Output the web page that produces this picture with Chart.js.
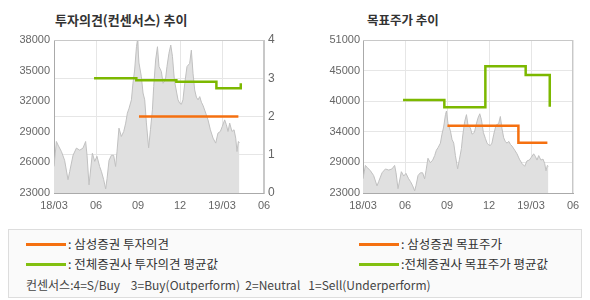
<!DOCTYPE html>
<html><head><meta charset="utf-8">
<script src="https://cdn.jsdelivr.net/npm/chart.js@4.4.1/dist/chart.umd.min.js"></script>
<style>
body{margin:0;background:#fff;width:590px;height:300px;position:relative;overflow:hidden;font-family:"Noto Sans CJK KR","Liberation Sans",sans-serif;}
.title{position:absolute;top:10px;font-weight:bold;font-size:13px;color:#333;white-space:nowrap;}
.cw{position:absolute;top:0;width:295px;height:216px;}
#legend{position:absolute;left:8px;top:229px;width:572px;height:67px;border:1px solid #ddd;background:#fafafa;}
.li{position:absolute;font-size:12.5px;color:#333;white-space:pre;line-height:14px;}
.sw{position:absolute;height:3px;width:40px;}
</style></head><body>
<div class="title" style="left:55px">투자의견(컨센서스) 추이</div>
<div class="title" style="left:367px;font-size:12.5px">목표주가 추이</div>
<div class="cw" style="left:0"><canvas id="c1" width="295" height="216"></canvas></div>
<div class="cw" style="left:295px"><canvas id="c2" width="295" height="216"></canvas></div>
<div id="legend">
  <div class="sw" style="left:17px;top:13px;background:#f57010"></div>
  <div class="li" style="left:59px;top:7px">: 삼성증권 투자의견</div>
  <div class="sw" style="left:17px;top:33px;background:#82c010"></div>
  <div class="li" style="left:59px;top:27px">: 전체증권사 투자의견 평균값</div>
  <div class="sw" style="left:350px;top:13px;background:#f57010"></div>
  <div class="li" style="left:392px;top:7px">: 삼성증권 목표주가</div>
  <div class="sw" style="left:350px;top:33px;background:#82c010"></div>
  <div class="li" style="left:392px;top:27px">:전체증권사 목표주가 평균값</div>
  <div class="li" style="left:17px;top:48px;font-size:12px;color:#444">컨센서스:4=S/Buy    3=Buy(Outperform)  2=Neutral   1=Sell(Underperform)</div>
</div>
<script>
// x values are months since 2018-03-01
const xTickLabels = ['18/03','06','09','12','19/03','06'];
const priceMonths = [0.0,0.17,0.29,0.53,0.76,1.0,1.12,1.36,1.6,1.84,2.07,2.26,2.36,2.5,2.74,2.91,3.07,3.26,3.39,3.55,3.69,3.79,3.93,4.1,4.26,4.4,4.5,4.64,4.81,4.98,5.12,5.24,5.36,5.53,5.64,5.76,5.89,5.96,6.07,6.24,6.36,6.48,6.6,6.76,6.89,7.03,7.12,7.26,7.39,7.5,7.67,7.79,7.96,8.07,8.21,8.34,8.46,8.6,8.74,8.86,8.98,9.1,9.21,9.34,9.5,9.69,9.81,9.93,10.05,10.17,10.29,10.41,10.53,10.64,10.84,11.0,11.17,11.36,11.55,11.71,11.88,12.02,12.19,12.31,12.43,12.55,12.71,12.86,12.98,13.07,13.17,13.24];
const priceValues = [25600,28050,27700,27070,26200,24300,25100,26700,27400,27200,27400,28050,26700,23800,26900,26100,26600,25600,25100,24300,23400,24400,26200,26700,26700,25600,27070,29360,28540,29030,29850,30830,31300,32130,33760,35060,37340,38000,35750,34400,32800,32130,29870,27430,29200,31150,33430,36040,37340,35400,34900,33760,34100,35400,36700,37500,36400,34060,33000,32130,31800,31700,32130,33760,35400,35700,37000,34740,33100,32400,32130,32450,31900,31600,30830,30170,29200,28380,27890,28870,29030,29520,30170,29700,29030,29850,29030,29200,28380,27070,28050,27900];
const opinionAvgMonths = [2.86,5.88,8.74,11.6,13.34];
const opinionAvgValues = [3,2.95,2.91,2.74,2.87];
const samsungOpinionMonths = [6.07,13.17];
const samsungOpinionValues = [2,2];
const targetAvgMonths = [2.86,5.81,8.74,11.62,13.34];
const targetAvgValues = [40000,38700,46200,44600,38800];
const samsungTargetMonths = [6.03,11.1,13.17];
const samsungTargetValues = [35300,32200,32200];
const opinionTicks = [0,1,2,3,4];
const priceTicksLeft = [23000,26000,29000,32000,35000,38000];
const priceTickLabelsRight = ['23000','29000','34000','40000','45000','51000'];

const ORANGE = '#f57010', GREEN = '#7cb800';
const tickFont = {family:'"Liberation Sans", Arial, sans-serif', size:11};
const pts = (xs, ys) => xs.map((x,i)=>({x, y: ys[i]}));

const framePlugin = {
  id:'frame',
  afterDatasetsDraw(chart){
    const {ctx, chartArea:a} = chart;
    ctx.save(); ctx.strokeStyle = '#c8c8c8'; ctx.lineWidth = 1;
    ctx.beginPath();
    ctx.moveTo(a.left, a.top+0.5); ctx.lineTo(a.right, a.top+0.5);
    ctx.moveTo(a.right-0.5, a.top); ctx.lineTo(a.right-0.5, a.bottom);
    ctx.stroke(); ctx.restore();
  }
};

function xAxis(){
  return {type:'linear', min:0, max:15,
    afterBuildTicks: s => { s.ticks = [0,3,6,9,12,15].map(v=>({value:v})); },
    afterFit: s => { s.height = 23; },
    ticks:{callback:(v,i)=>xTickLabels[i], color:'#666', font:tickFont, padding:6, maxRotation:0, autoSkip:false},
    grid:{color:'#e6e6e6', drawTicks:false},
    border:{color:'#aaa'}};
}

function priceDataset(axis){
  return {type:'line', data: pts(priceMonths, priceValues), yAxisID: axis,
    borderColor:'#c0c0c0', borderWidth:1, backgroundColor:'#e0e0e0', fill:'start',
    pointRadius:0, tension:0, order:10};
}
function stepDataset(xs, ys, color, axis){
  return {type:'line', data: pts(xs, ys), yAxisID: axis, borderColor: color, borderWidth:2.5,
    stepped:'before', pointRadius:0, fill:false, order:1};
}

const common = {responsive:false, animation:false, events:[],
  plugins:{legend:{display:false}, tooltip:{enabled:false}}};

new Chart(document.getElementById('c1'), {
  type:'line',
  data:{datasets:[
    stepDataset(samsungOpinionMonths, samsungOpinionValues, ORANGE, 'y1'),
    stepDataset(opinionAvgMonths, opinionAvgValues, GREEN, 'y1'),
    priceDataset('y')
  ]},
  options:{...common,
    layout:{padding:{top:40, left:0, right:0, bottom:0}},
    scales:{
      x: xAxis(),
      y:{type:'linear', position:'left', min:23000, max:38000,
        afterBuildTicks: s => { s.ticks = priceTicksLeft.map(v=>({value:v})); },
        afterFit: s => { s.width = 54; },
        ticks:{color:'#666', font:tickFont, padding:4, callback:v=>String(v)},
        grid:{display:false, drawTicks:false}, border:{color:'#aaa'}},
      y1:{type:'linear', position:'right', min:0, max:4,
        afterBuildTicks: s => { s.ticks = opinionTicks.map(v=>({value:v})); },
        afterFit: s => { s.width = 31; },
        ticks:{color:'#666', font:{...tickFont, size:12}, padding:4, callback:v=>String(v)},
        grid:{color:'#e6e6e6', drawTicks:false}, border:{color:'#c8c8c8'}}
    }},
  plugins:[framePlugin]
});

const rightTickValues = [23000,28600,34200,39800,45400,51000];
new Chart(document.getElementById('c2'), {
  type:'line',
  data:{datasets:[
    stepDataset(samsungTargetMonths, samsungTargetValues, ORANGE, 'y'),
    stepDataset(targetAvgMonths, targetAvgValues, GREEN, 'y'),
    priceDataset('y')
  ]},
  options:{...common,
    layout:{padding:{top:40, left:0, right:17, bottom:0}},
    scales:{
      x: xAxis(),
      y:{type:'linear', position:'left', min:23000, max:51000,
        afterBuildTicks: s => { s.ticks = rightTickValues.map(v=>({value:v})); },
        afterFit: s => { s.width = 68; },
        ticks:{color:'#666', font:tickFont, padding:3, callback:(v,i)=>priceTickLabelsRight[i]},
        grid:{color:'#e6e6e6', drawTicks:false}, border:{color:'#aaa'}}
    }},
  plugins:[framePlugin]
});
</script>
</body></html>
